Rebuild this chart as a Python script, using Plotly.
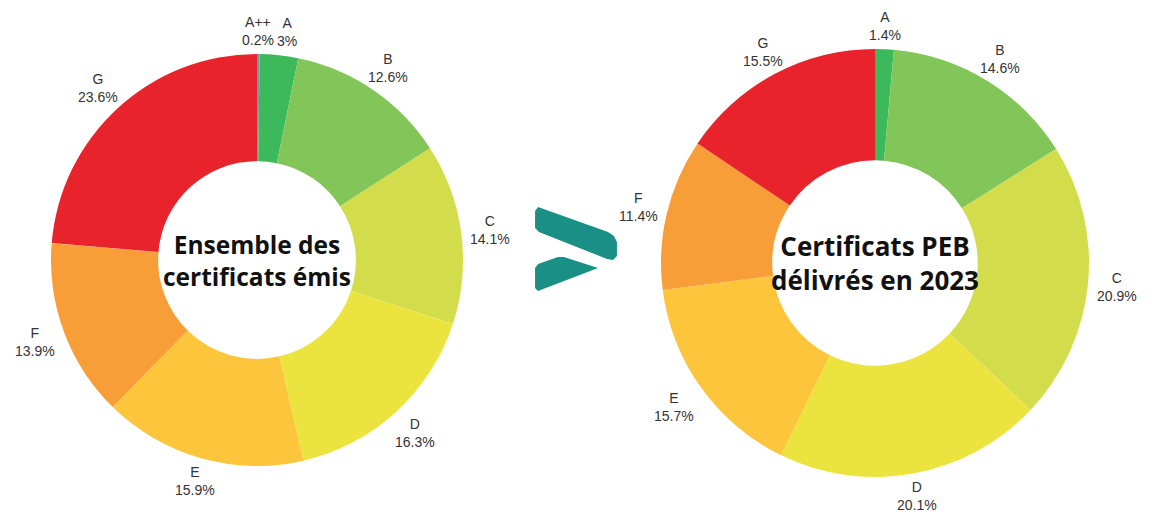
import math
import plotly.graph_objects as go

W, H = 1152, 512
OFF = 8  # page body margin offset in the screenshot

labels_all = ["A++", "A", "B", "C", "D", "E", "F", "G"]
values_all = [0.2, 3, 12.6, 14.1, 16.3, 15.9, 13.9, 23.6]

labels_2023 = ["A", "B", "C", "D", "E", "F", "G"]
values_2023 = [1.4, 14.6, 20.9, 20.1, 15.7, 11.4, 15.5]

colors = {"A++": "#6f9aa8", "A": "#3cb95a", "B": "#82c65a", "C": "#d3dc4b",
          "D": "#ebe43f", "E": "#fcc53b", "F": "#f89e38", "G": "#e8232b"}

title_all = "Ensemble des<br>certificats émis"
title_2023 = "Certificats PEB<br>délivrés en 2023"

LABEL_SIZE = 14


def px(x, y):
    return (x - OFF) / W, 1 - (y - OFF) / H


def px_dom(cx, cy, r):
    x0, y1 = px(cx - r, cy - r)
    x1, y0 = px(cx + r, cy + r)
    return dict(x=[x0, x1], y=[y0, y1])


def text_w(s):
    return len(s) * LABEL_SIZE * 0.58


fig = go.Figure()
charts = [(labels_all, values_all, (257, 260), 206, title_all, 24.5),
          (labels_2023, values_2023, (875, 263), 214, title_2023, 26)]

for labs, vals, (cx, cy), r, title, tsize in charts:
    fig.add_trace(go.Pie(
        labels=labs, values=vals, hole=0.48, sort=False, direction="clockwise",
        rotation=0, domain=px_dom(cx, cy, r),
        marker=dict(colors=[colors[l] for l in labs], line=dict(width=0)),
        textinfo="none", showlegend=False, hoverinfo="label+percent",
    ))
    # outside labels, placed at each slice's mid-angle
    total = sum(vals)
    cum = 0.0
    hw, hh, gap = 21, 15, 8
    prev = None
    for lab, v in zip(labs, vals):
        f = v / total
        th = 2 * math.pi * (cum + f / 2)
        cum += f
        dx, dy = math.sin(th), -math.cos(th)
        bh = min(hw / max(abs(dx), 1e-6), hh / max(abs(dy), 1e-6))
        dist = r + gap + bh
        lx, ly = cx + dist * dx, cy + dist * dy
        txt = f"{lab}<br>{v:g}%"
        half = max(text_w(lab), text_w(f"{v:g}%")) / 2
        if prev is not None:
            px_, py_, ph = prev
            if abs(ly - py_) < 2 * hh and lx - half < px_ + ph + 4 and lx >= px_:
                lx = px_ + ph + half + 4
        prev = (lx, ly, half)
        ax, ay = px(lx, ly)
        fig.add_annotation(x=ax, y=ay, xref="paper", yref="paper", showarrow=False,
                           xanchor="center", yanchor="middle", align="center", text=txt,
                           font=dict(family="Liberation Sans, Arial", size=LABEL_SIZE,
                                     color="#333333"))
    tx, ty = px(cx, cy)
    fig.add_annotation(x=tx, y=ty, xref="paper", yref="paper", text=title,
                       showarrow=False, align="center", xanchor="center", yanchor="middle",
                       font=dict(family="Open Sans", size=tsize, color="#111111", weight="bold"))


def path(points):
    return "M " + " L ".join("{:.4f},{:.4f}".format(*px(x, y)) for x, y in points) + " Z"


teal = "#1a8f85"
fig.add_shape(type="path", xref="paper", yref="paper", line=dict(width=0), fillcolor=teal,
              path=path([(538, 207), (608, 232), (614, 236), (617, 242), (617, 256), (613, 260),
                         (607, 259), (539, 232), (535, 228), (535, 211)]))
fig.add_shape(type="path", xref="paper", yref="paper", line=dict(width=0), fillcolor=teal,
              path=path([(538, 264), (558, 257), (564, 257), (598, 268), (538, 291), (535, 288),
                         (535, 268)]))

fig.update_layout(width=W, height=H, margin=dict(l=0, r=0, t=0, b=0),
                  paper_bgcolor="white", plot_bgcolor="white")
fig.write_html("out.html")
